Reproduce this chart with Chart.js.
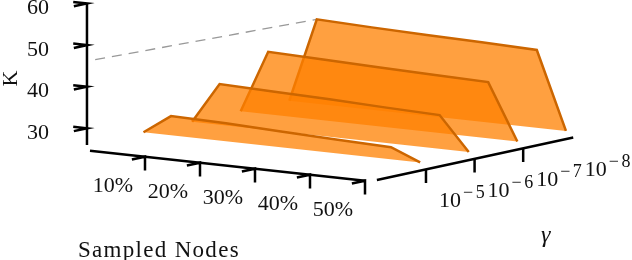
<!DOCTYPE html>
<html>
<head>
<meta charset="utf-8">
<style>
    html, body { margin: 0; padding: 0; background: #fff; }
    canvas { display: block; }
</style>
<script src="https://cdn.jsdelivr.net/npm/chart.js@4"></script>
</head>
<body>
<canvas id="myChart" width="632" height="260"></canvas>
<script>
// values
const sampledNodes = [10, 20, 30, 40, 50];
const nodeLabels = ['10%', '20%', '30%', '40%', '50%'];
const gammaIndex = [0, 1, 2, 3];
const gammaExponents = ['−5', '−6', '−7', '−8'];
const kTicks = [30, 40, 50, 60];

const kGamma5 = [33.1, 32.8, 32.3, 31.8, 31.4];
const kGamma6 = [38.3, 37.9, 37.5, 37.0, 36.6];
const kGamma7 = [43.5, 43.1, 42.7, 42.3, 42.0];
const kGamma8 = [48.8, 48.3, 47.9, 47.6, 47.2];
const kBase = 28.5;
const footNodes = [5, 55.3];

// gray dashed guide: gamma position and K at both ends
const guideGamma = [-1.56, 3];
const guideK = [50.6, 48.8];

// where the three axes sit in the box
const kAxisNode = -0.55, kAxisGamma = -0.535;
const nodeAxisK = 24.7;
const gammaAxisNode = 56.36, gammaAxisK = 27.0;

// oblique projection, x in px along the page and y in K units
function project(node, gamma, k) {
    return {
        x: 171 + (node - 10) * 5.5 + gamma * 48.6,
        y: k + (-(node - kAxisNode) * 0.6 + 10.5 * (gamma - kAxisGamma)) / 4.16
    };
}

function ribbonTop(values, gamma) {
    const pts = [project(footNodes[0], gamma, kBase)];
    sampledNodes.forEach((n, i) => pts.push(project(n, gamma, values[i])));
    pts.push(project(footNodes[1], gamma, kBase));
    return pts;
}

function ribbonBase(gamma) {
    return footNodes.map(n => project(n, gamma, kBase));
}

const gap = { x: null, y: null };
const orangeFill = 'rgba(255, 128, 0, 0.75)';
const orangeLine = '#cc6600';

function ribbonDatasets(values, gamma, index) {
    return [{
        data: ribbonTop(values, gamma),
        borderColor: orangeLine,
        borderWidth: 2.5,
        borderJoinStyle: 'miter',
        backgroundColor: orangeFill,
        fill: index + 1
    }, {
        data: ribbonBase(gamma),
        borderWidth: 0,
        borderColor: 'transparent',
        fill: false
    }];
}

function lineDataset(points, width = 2.5) {
    return { data: points, borderColor: '#000', borderWidth: width, fill: false, borderCapStyle: 'butt' };
}

// z axis marks have two strokes, node axis marks a stroke and a vertical
const kAxisPoints = [project(kAxisNode, kAxisGamma, 60.1), project(kAxisNode, kAxisGamma, 26)];
const kTickPoints = [];
kTicks.forEach(k => {
    kTickPoints.push(
        project(kAxisNode - 2.5, kAxisGamma, k),
        project(kAxisNode, kAxisGamma, k),
        project(kAxisNode, kAxisGamma - 0.27, k),
        gap
    );
});

const nodeAxisPoints = [project(0, kAxisGamma, nodeAxisK), project(50, kAxisGamma, nodeAxisK)];
const nodeTickPoints = [];
sampledNodes.forEach(n => {
    nodeTickPoints.push(
        project(n, kAxisGamma - 0.27, nodeAxisK),
        project(n, kAxisGamma, nodeAxisK),
        project(n, kAxisGamma, nodeAxisK - 3.3),
        gap
    );
});

const gammaAxisPoints = [project(gammaAxisNode, -1.01, gammaAxisK), project(gammaAxisNode, 3.03, gammaAxisK)];
const gammaTickPoints = [];
gammaIndex.slice(0, 3).forEach(g => {
    gammaTickPoints.push(
        project(gammaAxisNode, g, gammaAxisK),
        project(gammaAxisNode, g, gammaAxisK - 3.3),
        gap
    );
});

const datasets = [
    ...ribbonDatasets(kGamma5, gammaIndex[0], 0),
    ...ribbonDatasets(kGamma6, gammaIndex[1], 2),
    ...ribbonDatasets(kGamma7, gammaIndex[2], 4),
    ...ribbonDatasets(kGamma8, gammaIndex[3], 6),
    {
        data: guideGamma.map((g, i) => project(10, g, guideK[i])),
        borderColor: '#999',
        borderWidth: 1.3,
        borderDash: [10, 7],
        fill: false
    },
    lineDataset(kAxisPoints),
    lineDataset(kTickPoints),
    lineDataset(nodeAxisPoints),
    lineDataset(nodeTickPoints),
    lineDataset(gammaAxisPoints),
    lineDataset(gammaTickPoints)
];

const serif = '"Liberation Serif", serif';
const textColor = '#111';

// tilted tick labels and axis titles
const axisText = {
    id: 'axisText',
    afterDraw(chart) {
        const { ctx, scales } = chart;
        const px = p => ({ x: scales.x.getPixelForValue(p.x), y: scales.y.getPixelForValue(p.y) });
        ctx.save();
        ctx.fillStyle = textColor;
        ctx.textBaseline = 'alphabetic';

        ctx.font = `22px ${serif}`;
        ctx.textAlign = 'center';
        sampledNodes.forEach((n, i) => {
            const p = px(project(n, kAxisGamma, nodeAxisK));
            ctx.fillText(nodeLabels[i], p.x - 32, p.y + 35);
        });

        ctx.textAlign = 'left';
        gammaIndex.forEach((g, i) => {
            const p = px(project(gammaAxisNode, g, gammaAxisK));
            ctx.font = `22px ${serif}`;
            ctx.letterSpacing = '0px';
            ctx.fillText('10', p.x + 13, p.y + 38);
            ctx.font = `18px ${serif}`;
            ctx.letterSpacing = '2.5px';
            ctx.fillText(gammaExponents[i], p.x + 37, p.y + 29);
        });

        ctx.font = `23px ${serif}`;
        ctx.letterSpacing = '1.3px';
        ctx.fillText('Sampled Nodes', 78, 257);

        ctx.letterSpacing = '0px';
        ctx.font = `italic 24px ${serif}`;
        ctx.fillText('γ', 541, 242);

        ctx.font = `22px ${serif}`;
        ctx.translate(17, 78.5);
        ctx.rotate(-Math.PI / 2);
        ctx.textAlign = 'center';
        ctx.fillText('K', 0, 0);
        ctx.restore();
    }
};

const ctx = document.getElementById('myChart').getContext('2d');
new Chart(ctx, {
    type: 'scatter',
    data: { datasets: datasets },
    plugins: [axisText],
    options: {
        responsive: false,
        animation: false,
        layout: { padding: 0 },
        datasets: { scatter: { showLine: true, pointRadius: 0, tension: 0, clip: false } },
        plugins: { legend: { display: false }, tooltip: { enabled: false } },
        scales: {
            x: { type: 'linear', display: false, min: 87, max: 632 },
            y: {
                type: 'linear',
                min: -1.66,
                max: 60.84,
                afterFit: scale => {
                    // chart area has to fill the whole page height
                    scale.width = 87;
                    scale.paddingTop = 0;
                    scale.paddingBottom = 0;
                },
                afterBuildTicks: scale => { scale.ticks = kTicks.map(v => ({ value: v })); },
                grid: { display: false },
                border: { display: false },
                ticks: {
                    autoSkip: false,
                    padding: 30,
                    labelOffset: 5,
                    color: textColor,
                    font: { family: 'Liberation Serif', size: 22 }
                }
            }
        }
    }
});
</script>
</body>
</html>
